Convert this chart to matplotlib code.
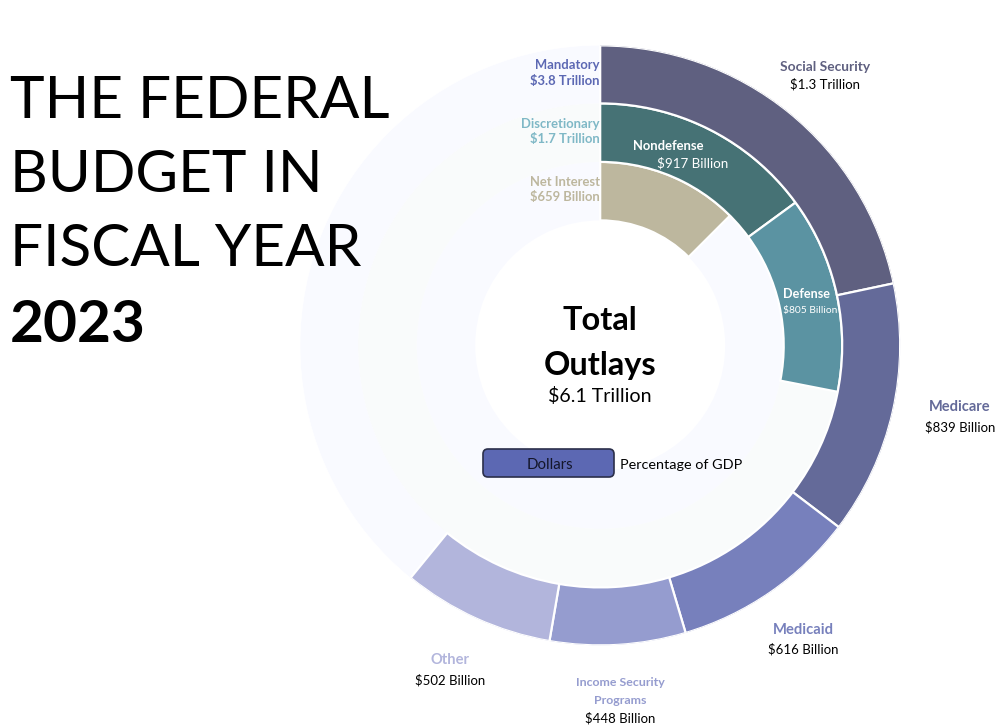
import numpy as np
import matplotlib
matplotlib.use("Agg")
import matplotlib.pyplot as plt
from matplotlib.patches import FancyBboxPatch

plt.rcParams['font.family'] = ['Lato', 'DejaVu Sans']

outer_names = ['Social Security', 'Medicare', 'Medicaid', 'Income Security Programs', 'Other']
outer_values = [1330, 839, 616, 448, 502]
outer_colors = ['#5f6080', '#646a99', '#7780bc', '#959ccf', '#b2b5dc']
outer_total = 6134

middle_names = ['Nondefense', 'Defense']
middle_values = [917, 805]
middle_colors = ['#467275', '#5b93a2']
middle_total = 6134

inner_names = ['Net Interest']
inner_values = [659]
inner_colors = ['#bdb79e']
inner_total = 5272   # the inner arc in the picture spans 45 degrees

W, H = 1008, 727
CX, CY, R = 600.2, 345.4, 300
RINGS = [(242, 300), (183.5, 242), (125, 183.5)]

fig = plt.figure(figsize=(W / 100, H / 100), dpi=100, facecolor='white')
ax = fig.add_axes([(CX - R) / W, 1 - (CY + R) / H, 2 * R / W, 2 * R / H], projection='polar')
ax.set_theta_zero_location('N')
ax.set_theta_direction(-1)
ax.set_ylim(0, R)
ax.set_axis_off()


def ring(values, colors, total, r0, r1, bg):
    ax.bar(np.pi, r1 - r0, width=2 * np.pi, bottom=r0, color=bg, linewidth=0, zorder=1)
    vals = np.array(values, dtype=float)
    ends = np.cumsum(vals) / total * 2 * np.pi
    starts = ends - vals / total * 2 * np.pi
    ax.bar(starts, r1 - r0, width=ends - starts, bottom=r0, align='edge', color=colors,
           edgecolor='white', linewidth=1.6, zorder=2)


ring(inner_values, inner_colors, inner_total, *RINGS[2], '#f9faff')
ring(middle_values, middle_colors, middle_total, *RINGS[1], '#f9fbfb')
ring(outer_values, outer_colors, outer_total, *RINGS[0], '#f9faff')

ov = fig.add_axes([0, 0, 1, 1], facecolor='none')
ov.set_xlim(0, W)
ov.set_ylim(H, 0)
ov.set_axis_off()


def t(x, y, s, px, color='black', ha='center', weight='normal'):
    ov.text(x, y, s, fontsize=px * 0.72, color=color, ha=ha, va='center', fontweight=weight)


for y, s in zip([101, 175, 249], ['THE FEDERAL', 'BUDGET IN', 'FISCAL YEAR']):
    t(10, y, s, 58.5, ha='left')
t(10, 326, '2023', 58.5, ha='left', weight='bold')

t(600, 65, 'Mandatory', 13, '#5c68b3', 'right', 'bold')
t(600, 81, '$3.8 Trillion', 13, '#5c68b3', 'right', 'bold')
t(600, 124, 'Discretionary', 13, '#7fb8c6', 'right', 'bold')
t(600, 139, '$1.7 Trillion', 13, '#7fb8c6', 'right', 'bold')
t(600, 182, 'Net Interest', 13, '#bdb79e', 'right', 'bold')
t(600, 197, '$659 Billion', 13, '#bdb79e', 'right', 'bold')

t(825, 67, outer_names[0], 13.8, outer_colors[0], weight='bold')
t(825, 84, '$1.3 Trillion', 13.2)
t(960, 407, outer_names[1], 14.6, outer_colors[1], weight='bold')
t(960, 427, '$839 Billion', 13.2)
t(803, 630, outer_names[2], 14.7, outer_colors[2], weight='bold')
t(803, 649, '$616 Billion', 13.2)
t(620, 683, 'Income Security', 12.4, outer_colors[3], weight='bold')
t(620, 701, 'Programs', 12.4, outer_colors[3], weight='bold')
t(620, 718, '$448 Billion', 13.2)
t(450, 660, outer_names[4], 14.8, outer_colors[4], weight='bold')
t(450, 680, '$502 Billion', 13.2)

t(668, 146, middle_names[0], 13, 'white', weight='bold')
t(693, 163, '$917 Billion', 13.4, 'white')
t(806, 294, middle_names[1], 12.6, 'white', weight='bold')
t(810, 311, '$805 Billion', 10.2, 'white')

t(600, 320, 'Total', 32.5, weight='bold')
t(600, 366, 'Outlays', 32.5, weight='bold')
t(600, 396, '$6.1 Trillion', 19.6)

ov.add_patch(FancyBboxPatch((486, 452), 125, 22, boxstyle='round,pad=3,rounding_size=5',
                            facecolor='#5c68b3', edgecolor='#2b2f4a', linewidth=1.2))
t(550, 465, 'Dollars', 15, '#14162a')
t(681, 465, 'Percentage of GDP', 14.4)

fig.savefig('out.png', dpi=100, facecolor='white')
